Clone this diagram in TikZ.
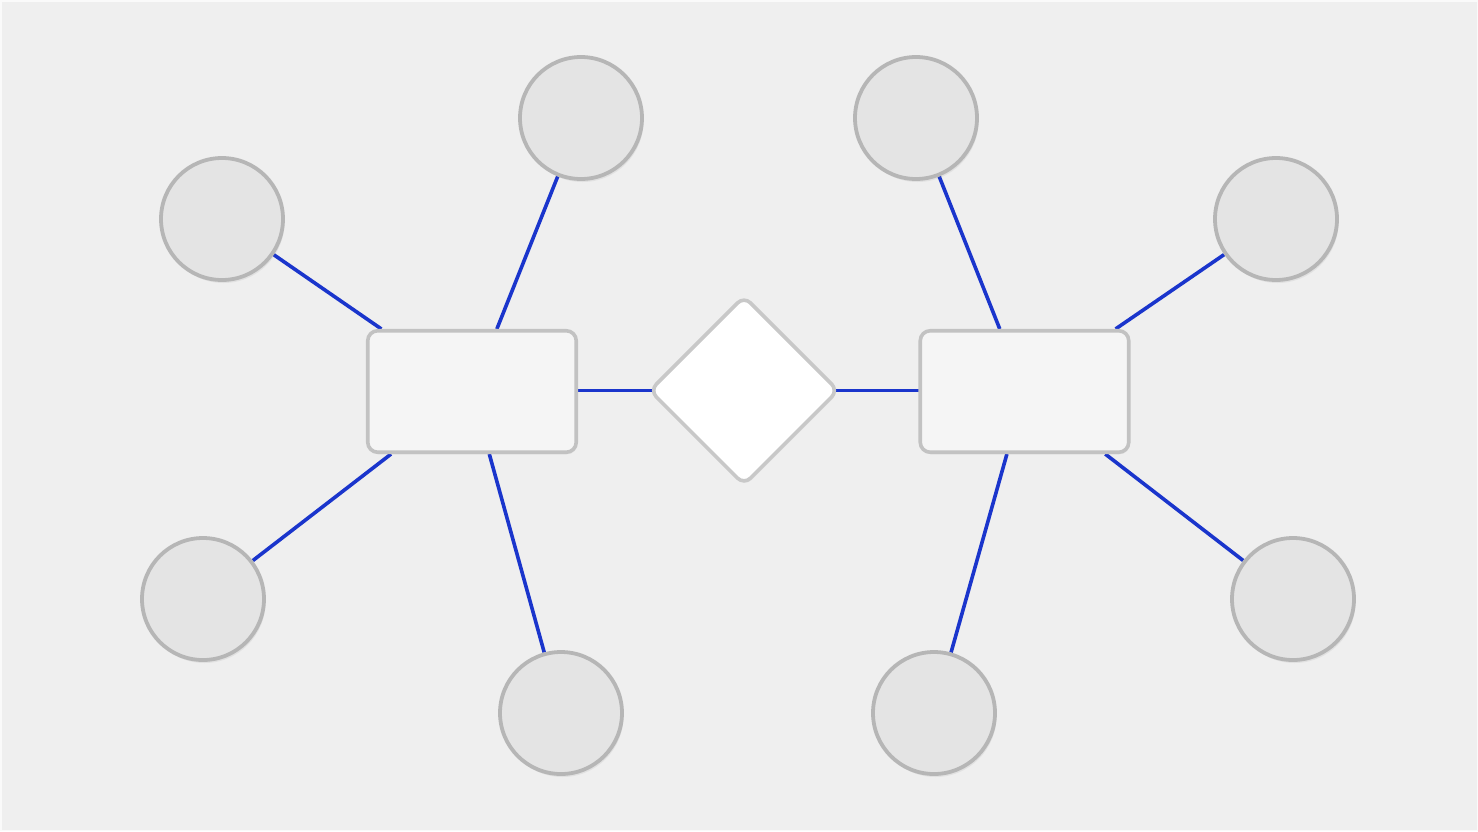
\documentclass[tikz,border=0pt]{standalone}
\usetikzlibrary{shadows}
\definecolor{bgc}{HTML}{EFEFEF}
\definecolor{circfill}{HTML}{E4E4E4}
\definecolor{circline}{HTML}{B6B6B6}
\definecolor{boxfill}{HTML}{F5F5F5}
\definecolor{boxline}{HTML}{C2C2C2}
\definecolor{dialine}{HTML}{C8C8C8}
\definecolor{linkc}{HTML}{1A35CC}
\pgfdeclarelayer{bg}
\pgfsetlayers{bg,main}
\tikzset{
  attr/.style={circle, draw=circline, fill=circfill, line width=3.8pt, minimum size=122pt, inner sep=0pt,
    drop shadow={opacity=0.12, shadow xshift=1.5pt, shadow yshift=-3pt}},
  entity/.style={rectangle, rounded corners=10pt, draw=boxline, fill=boxfill, line width=3.6pt,
    minimum width=208.5pt, minimum height=121.5pt, inner sep=0pt,
    drop shadow={opacity=0.10, shadow xshift=1pt, shadow yshift=-2pt}},
  rel/.style={rectangle, rounded corners=9pt, rotate=45, draw=dialine, fill=white, line width=3.6pt,
    minimum size=133pt, inner sep=0pt,
    drop shadow={opacity=0.10, shadow xshift=1pt, shadow yshift=-2pt}},
  link/.style={draw=linkc, line width=3.6pt}
}
\begin{document}
\begin{tikzpicture}[x=1pt, y=-1pt]
\begin{pgfonlayer}{bg}
\fill[bgc] (0,0) rectangle (1478,831);
\draw[white!70!bgc, line width=1.5pt] (0.75,0.75) rectangle (1477.25,830.25);
\end{pgfonlayer}
\useasboundingbox (0,0) rectangle (1478,831);

\node[entity] (e1) at (472,391.5) {};
\node[entity] (e2) at (1024.5,391.5) {};
\node[rel] (r) at (744,390.5) {};

\node[attr] (a1) at (222,219) {};
\node[attr] (a2) at (581,118) {};
\node[attr] (a3) at (203,599) {};
\node[attr] (a4) at (561,713) {};
\node[attr] (b1) at (916,118) {};
\node[attr] (b2) at (1276,219) {};
\node[attr] (b3) at (1293,599) {};
\node[attr] (b4) at (934,713) {};

\begin{pgfonlayer}{bg}
\draw[link] (e1) -- (a1);
\draw[link] (e1) -- (a2);
\draw[link] (e1) -- (a3);
\draw[link] (e1) -- (a4);
\draw[link] (e2) -- (b1);
\draw[link] (e2) -- (b2);
\draw[link] (e2) -- (b3);
\draw[link] (e2) -- (b4);
\draw[link] (e1.center |- r.center) -- (r.center);
\draw[link] (r.center) -- (e2.center |- r.center);
\end{pgfonlayer}
\end{tikzpicture}
\end{document}
